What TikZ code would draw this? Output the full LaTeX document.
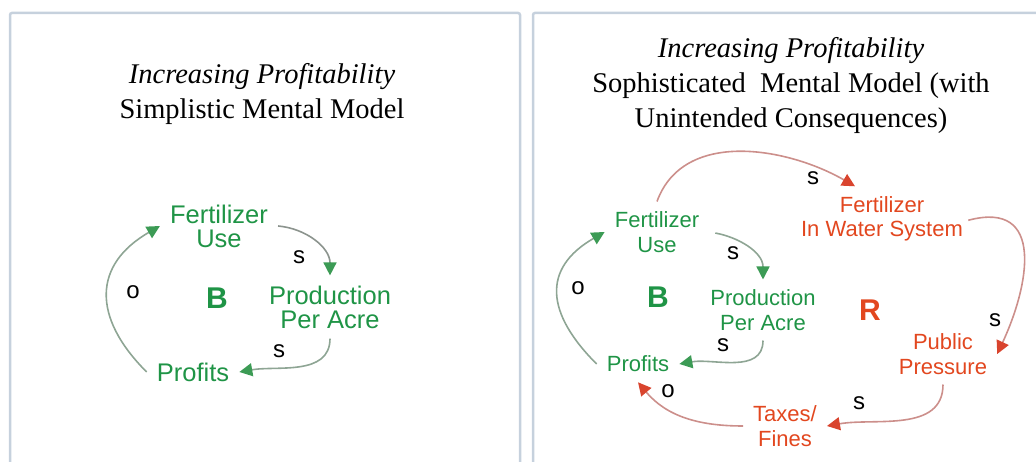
\documentclass[tikz,border=0pt]{standalone}
\usepackage{fontspec}
\setmainfont{Liberation Serif}
\setsansfont{Liberation Sans}
\usetikzlibrary{arrows.meta}

\definecolor{loopgreen}{HTML}{1F9446}
\definecolor{loopred}{HTML}{E2471F}
\definecolor{greenline}{HTML}{8EA594}
\definecolor{greyline}{HTML}{8C948E}
\definecolor{redline}{HTML}{CC8F8B}
\definecolor{greentip}{HTML}{3C9B55}
\definecolor{redtip}{HTML}{D9442E}
\definecolor{framecol}{HTML}{C6D1DD}

\begin{document}
\begin{tikzpicture}[x=1pt,y=1pt,
every node/.style={font=\sffamily},
title/.style={font=\rmfamily\fontsize{28.5}{35}\selectfont,align=center},
bigvar/.style={align=center,inner sep=10pt,text=loopgreen,font=\sffamily\fontsize{25.5}{24}\selectfont},
smallvar/.style={align=center,inner sep=10pt,font=\sffamily\fontsize{22}{24.5}\selectfont},
polarity/.style={font=\sffamily\fontsize{24}{24}\selectfont},
loopname/.style={font=\sffamily\bfseries\fontsize{30}{30}\selectfont},
greenarrow/.style={draw=greenline,line width=1.6pt,-{Triangle[color=greentip,length=13pt,width=13pt]}},
redarrow/.style={draw=redline,line width=1.6pt,-{Triangle[color=redtip,length=13pt,width=13pt]}},
panel/.style={draw=framecol,line width=2.5pt,rounded corners=2pt}]

\useasboundingbox (0,0) rectangle (1036,462);

% panels
\draw[panel] (10,0) -- (10,449) -- (520,449) -- (520,0);
\draw[panel] (533,0) -- (533,449) -- (1045,449);

% simplistic model
\node[title] (ltitle) at (262,368) {\textit{Increasing Profitability}\\Simplistic Mental Model};

\node[bigvar] (lfuse) at (219,236) {Fertilizer\\Use};
\node[bigvar] (lppa) at (330,155) {Production\\Per Acre};
\node[bigvar] (lprof) at (193,90) {Profits};
\node[loopname,text=loopgreen] (lb) at (217,164) {B};

\draw[greenarrow,draw=greyline] (lfuse.east) to[out=-5,in=90] (lppa.north);
\draw[greenarrow] (lppa.south) to[out=-90,in=10] (lprof.east);
\draw[greenarrow] (lprof.west) to[out=135,in=210,looseness=1.35] (lfuse.west);

\node[polarity] (ls1) at (299,205) {s};
\node[polarity] (ls2) at (279,111) {s};
\node[polarity] (lo1) at (133,170) {o};

% sophisticated model
\node[title] (rtitle) at (791,376) {\textit{Increasing Profitability}\\Sophisticated\ \ Mental Model (with\\Unintended Consequences)};

\node[smallvar,text=loopgreen] (rfuse) at (657,230) {Fertilizer\\Use};
\node[smallvar,text=loopgreen] (rppa) at (763,152) {Production\\Per Acre};
\node[smallvar,text=loopgreen] (rprof) at (638,98) {Profits};
\node[smallvar,text=loopred] (rfws) at (882,243) {Fertilizer\\In Water System};
\node[smallvar,text=loopred] (rpub) at (943,108) {Public\\Pressure};
\node[smallvar,text=loopred] (rtax) at (785,36) {Taxes/\\Fines};
\node[loopname,text=loopgreen] (rb) at (658,165) {B};
\node[loopname,text=loopred] (rr) at (870,152) {R};

\draw[greenarrow,shorten <=6pt] (rfuse.east) to[out=-10,in=90] (rppa.north);
\draw[greenarrow] (rppa.south) to[out=-90,in=10] (rprof.east);
\draw[greenarrow] (rprof.west) to[out=135,in=210,looseness=1.4] (rfuse.west);
\draw[redarrow] (rfuse.north) to[out=70,in=150] ([xshift=-27pt]rfws.north);
\draw[redarrow,shorten <=-5pt] (rfws.east) to[out=15,in=65,looseness=1.4] (rpub.east);
\draw[redarrow] (rpub.south) to[out=-90,in=10] (rtax.east);
\draw[redarrow] (rtax.west) to[out=180,in=-50] (rprof.south);

\node[polarity] (rs1) at (813,284) {s};
\node[polarity] (rs2) at (733,209) {s};
\node[polarity] (ro1) at (578,174) {o};
\node[polarity] (rs3) at (723,117) {s};
\node[polarity] (ro2) at (668,71) {o};
\node[polarity] (rs4) at (859,59) {s};
\node[polarity] (rs5) at (995,142) {s};

\end{tikzpicture}
\end{document}
